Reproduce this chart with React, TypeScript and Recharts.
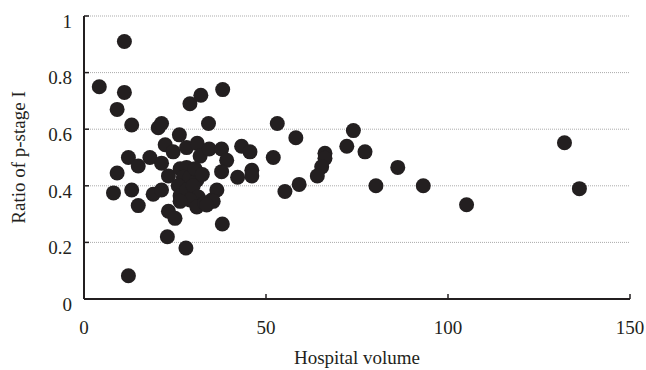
import {
  ScatterChart,
  Scatter,
  XAxis,
  YAxis,
  CartesianGrid,
  Label,
} from "recharts";

// hospital volume vs ratio of p-stage I
const volume = [
  4.2, 11.1, 11.1, 9.1, 13.1, 20.4, 21.3, 29.1, 32.1, 38.1,
  34.2, 26.2, 22.3, 24.5, 28.2, 31.1, 31.9, 34.4, 37.8, 39.2,
  43.3, 45.6, 12.2, 18.1, 14.9, 21.3, 23.2, 26.4, 28.2, 27.3,
  29.1, 31.0, 37.8, 42.2, 46.1, 46.1, 9.1, 8.1, 13.1, 14.9,
  19.0, 21.3, 25.9, 26.4, 28.2, 30.0, 31.4, 29.1, 31.0, 26.4,
  33.2, 35.1, 36.5, 23.2, 25.0, 38.0, 22.9, 28.0, 12.2, 53.1,
  74.0, 58.2, 52.0, 72.2, 77.2, 66.2, 66.2, 65.3, 64.1, 86.2,
  59.1, 55.2, 80.2, 93.2, 132.0, 136.1, 105.1, 35.5, 33.7, 30.5,
  32.5,
];
const ratio = [
  0.75, 0.91, 0.73, 0.67, 0.615, 0.605, 0.62, 0.69, 0.72, 0.74,
  0.62, 0.58, 0.545, 0.52, 0.535, 0.55, 0.505, 0.53, 0.53, 0.49,
  0.54, 0.52, 0.5, 0.5, 0.47, 0.48, 0.435, 0.46, 0.465, 0.43,
  0.43, 0.42, 0.45, 0.43, 0.455, 0.435, 0.445, 0.375, 0.385, 0.33,
  0.37, 0.385, 0.4, 0.365, 0.385, 0.4, 0.36, 0.35, 0.325, 0.345,
  0.34, 0.35, 0.385, 0.31, 0.285, 0.265, 0.22, 0.18, 0.082, 0.62,
  0.595, 0.57, 0.5, 0.54, 0.52, 0.515, 0.497, 0.467, 0.435, 0.465,
  0.405, 0.38, 0.4, 0.4, 0.552, 0.39, 0.333, 0.345, 0.332, 0.46,
  0.44,
];

const xTicks = [0, 50, 100, 150];
const yTicks = [0, 0.2, 0.4, 0.6, 0.8, 1];

const data = volume.map((v, i) => ({ volume: v, ratio: ratio[i] }));

const FONT = '"Liberation Serif", "Times New Roman", serif';
const INK = "#231f20";

function Dot(props: { cx?: number; cy?: number }) {
  if (props.cx == null || props.cy == null) return null;
  return <circle cx={props.cx} cy={props.cy} r={7.5} fill={INK} />;
}

export default function App() {
  return (
    <div style={{ position: "absolute", left: 0, top: 0, background: "#fff" }}>
      <ScatterChart
        width={646}
        height={370}
        margin={{ top: 16, right: 16, left: 0, bottom: 0 }}
      >
        <CartesianGrid
          horizontal
          vertical={false}
          stroke="#ababab"
          strokeDasharray="1 1"
        />
        <XAxis
          type="number"
          dataKey="volume"
          domain={[0, 150]}
          ticks={xTicks}
          height={71}
          axisLine={{ stroke: INK, strokeWidth: 2 }}
          tickLine={{ stroke: INK, strokeWidth: 1.5 }}
          tickSize={-5}
          tickMargin={27}
          tick={{ fill: INK, fontSize: 19, fontFamily: FONT }}
        >
          <Label
            value="Hospital volume"
            position="insideBottom"
            offset={6}
            style={{ fill: INK, fontSize: 19, fontFamily: FONT }}
          />
        </XAxis>
        <YAxis
          type="number"
          dataKey="ratio"
          domain={[0, 1]}
          ticks={yTicks}
          width={84}
          axisLine={{ stroke: INK, strokeWidth: 2 }}
          tickLine={{ stroke: INK, strokeWidth: 1.5 }}
          tickSize={-5}
          tickMargin={17}
          tick={{ fill: INK, fontSize: 19, fontFamily: FONT, dy: 5 }}
        >
          <Label
            value="Ratio of p-stage I"
            angle={-90}
            position="insideLeft"
            offset={18}
            style={{ fill: INK, fontSize: 19, fontFamily: FONT, textAnchor: "middle" }}
          />
        </YAxis>
        <Scatter data={data} shape={<Dot />} isAnimationActive={false} />
      </ScatterChart>
    </div>
  );
}
